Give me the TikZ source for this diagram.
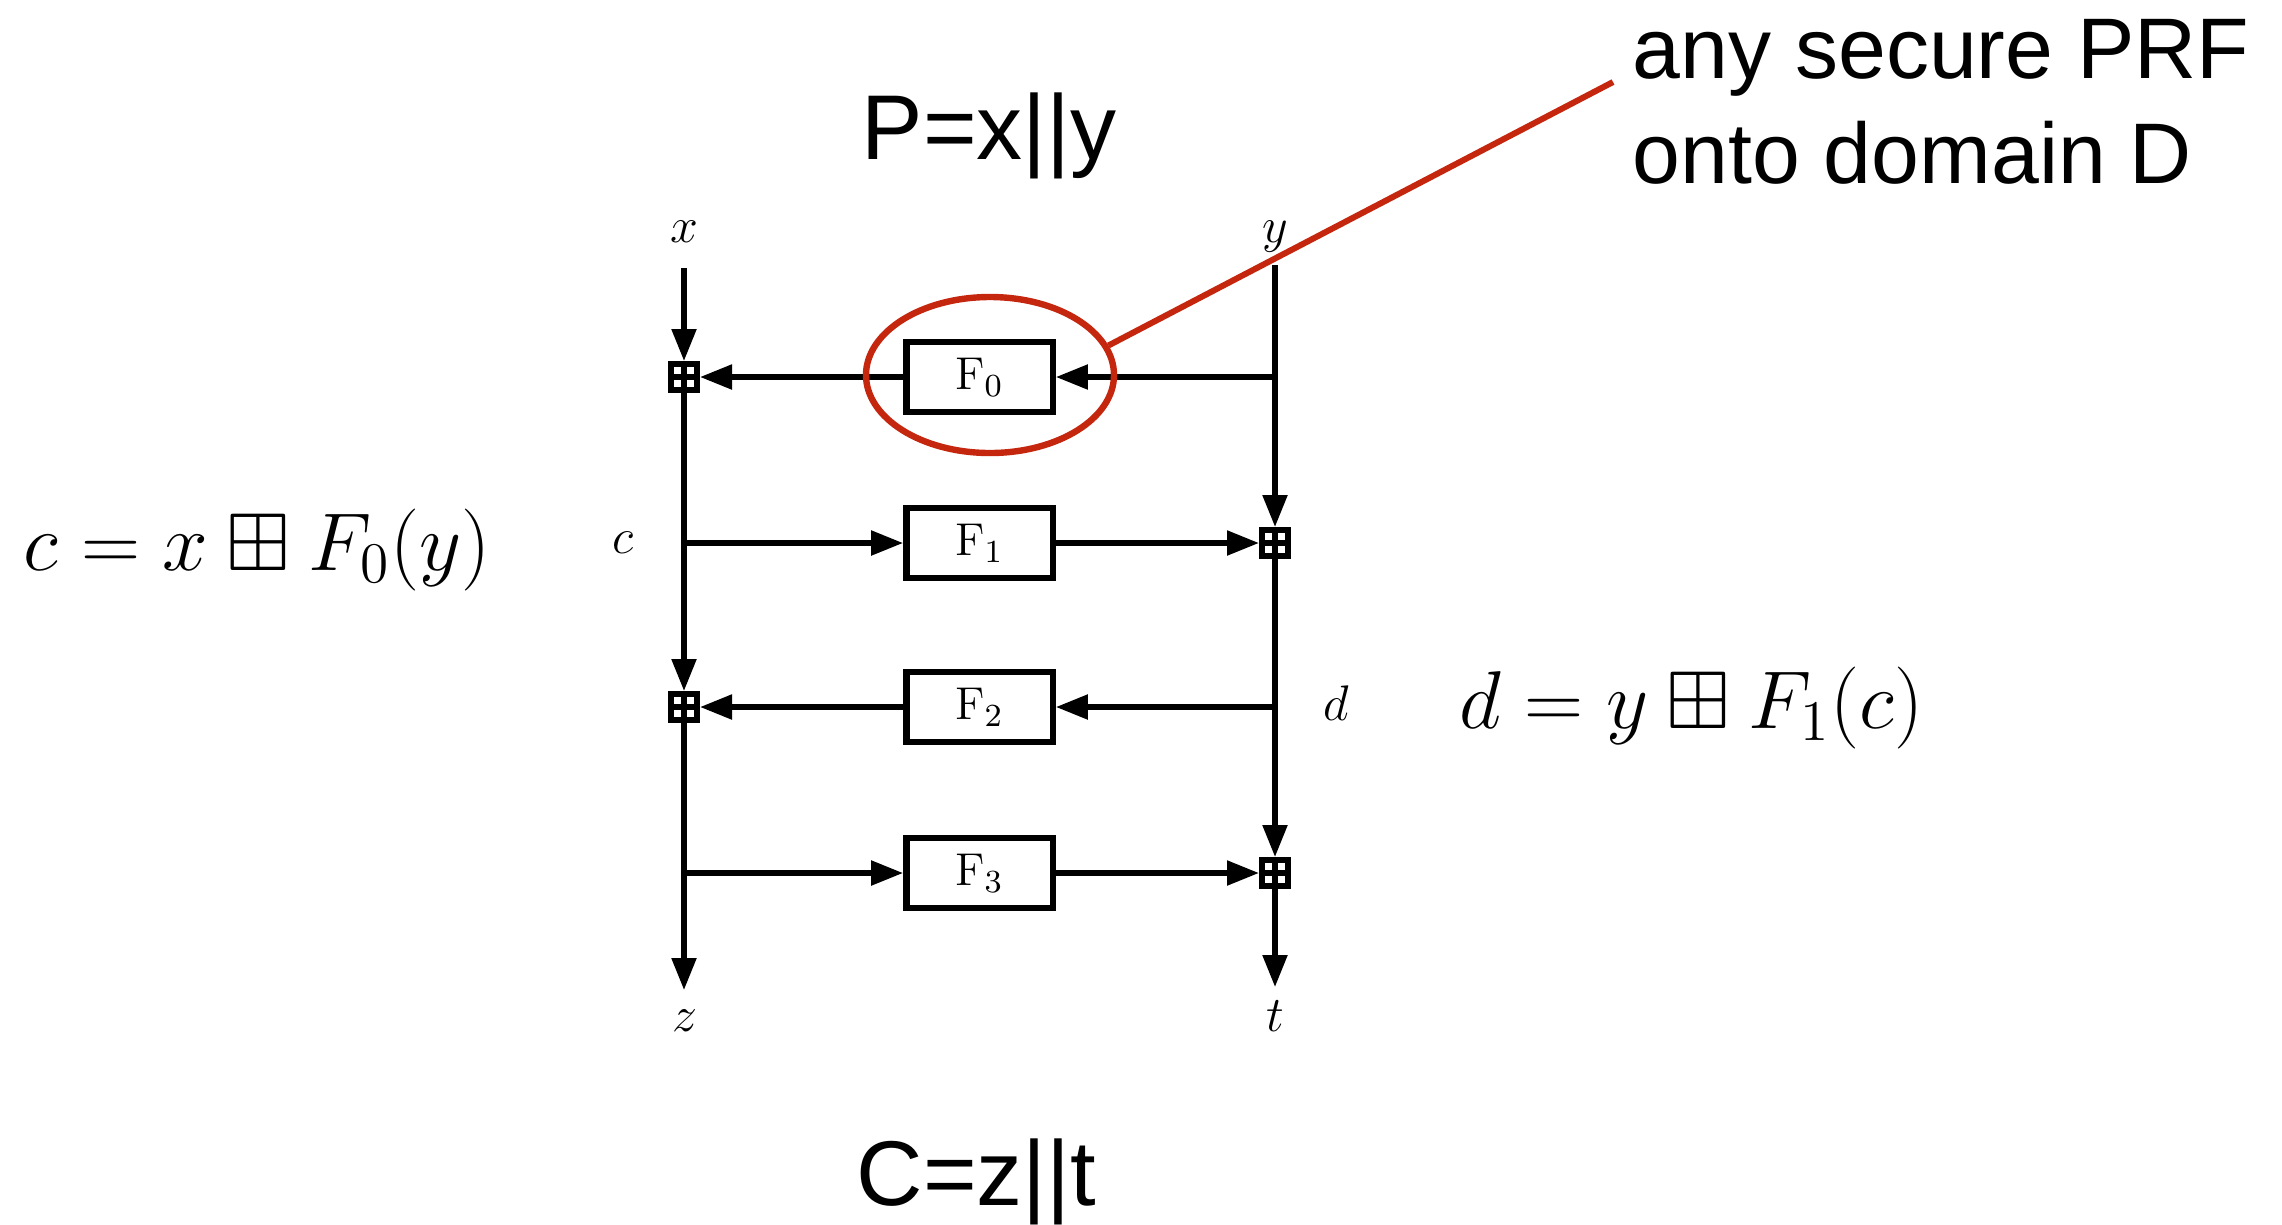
\RequirePackage{fix-cm}
\documentclass[tikz,border=0pt]{standalone}
\usepackage{amssymb}
\usepackage{fontspec}
\newfontfamily\hel{Liberation Sans}
\usetikzlibrary{arrows.meta,shapes.geometric}
\definecolor{annred}{RGB}{196,38,14}
\begin{document}
\begin{tikzpicture}[x=0.25pt,y=-0.25pt,
  wire/.style={line width=1.33pt},
  arr/.style={wire,-{Triangle[length=8pt,width=6pt]}},
  fbox/.style={draw,line width=1.6pt,minimum width=36.6pt,minimum height=17.4pt,inner sep=0pt,font=\fontsize{11.5}{12}\selectfont},
  bplus/.style={fill=black,minimum size=8pt,inner sep=0pt,outer sep=0pt,
    path picture={\foreach \sx in {-1,1}{\foreach \sy in {-1,1}{
      \fill[white] ([shift={(\sx*0.75pt,\sy*0.75pt)}]path picture bounding box.center) rectangle ([shift={(\sx*2.5pt,\sy*2.5pt)}]path picture bounding box.center);}}}},
  lbl/.style={anchor=base,inner sep=0pt,font=\fontsize{12.5}{14}\selectfont},
  eq/.style={anchor=base west,inner sep=0pt,font=\fontsize{20.5}{24}\selectfont},
  big/.style={anchor=base west,inner sep=0pt,font=\hel\fontsize{23}{27}\selectfont},
  ann/.style={anchor=base west,inner sep=0pt,font=\hel\fontsize{21.5}{25}\selectfont}]
\useasboundingbox (0,0) rectangle (2282,1224);
% texts
\node[big] (P) at (861,159) {P=x||y};
\node[big] (C) at (856,1205) {C=z||t};
\node[ann] (ann1) at (1632,78) {any secure PRF};
\node[ann] (ann2) at (1632,183) {onto domain D};
\node[eq] (eqc) at (23,570) {$c = x \boxplus F_0(y)$};
\node[eq] (eqd) at (1459,728) {$d = y \boxplus F_1(c)$};
% labels
\node[lbl] (lx) at (684,242) {$x$};
\node[lbl] (ly) at (1275,242) {$y$};
\node[lbl] (lc) at (623,553) {$c$};
\node[lbl] (ld) at (1336,720) {$d$};
\node[lbl] (lz) at (685,1031) {$z$};
\node[lbl] (lt) at (1275,1031) {$t$};
% boxes
\node[fbox] (F0) at (979.5,377) {$\mathrm{F}_0$};
\node[fbox] (F1) at (979.5,543) {$\mathrm{F}_1$};
\node[fbox] (F2) at (979.5,707) {$\mathrm{F}_2$};
\node[fbox] (F3) at (979.5,873) {$\mathrm{F}_3$};
% combiners
\node[bplus] (s0) at (684,377) {};
\node[bplus] (s2) at (684,707) {};
\node[bplus] (s1) at (1275,543) {};
\node[bplus] (s3) at (1275,873) {};
% terminals
\coordinate (xin) at (684,268);
\coordinate (yin) at (1275,265);
\coordinate (zout) at (684,990);
\coordinate (tout) at (1275,987);
\coordinate (r0) at (yin |- F0);
\coordinate (r2) at (yin |- F2);
\coordinate (l1) at (xin |- F1);
\coordinate (l3) at (xin |- F3);
% verticals
\draw[arr] (xin) -- (s0.north);
\draw[arr] (s0.south) -- (s2.north);
\draw[arr] (s2.south) -- (zout);
\draw[arr] (yin) -- (s1.north);
\draw[arr] (s1.south) -- (s3.north);
\draw[arr] (s3.south) -- (tout);
% horizontals
\draw[arr] (r0) -- (F0.east);
\draw[arr] (F0.west) -- (s0.east);
\draw[arr] (l1) -- (F1.west);
\draw[arr] (F1.east) -- (s1.west);
\draw[arr] (r2) -- (F2.east);
\draw[arr] (F2.west) -- (s2.east);
\draw[arr] (l3) -- (F3.west);
\draw[arr] (F3.east) -- (s3.west);
% annotation
\node[ellipse,draw=annred,line width=1.6pt,minimum width=62pt,minimum height=39pt,inner sep=0pt] (ell) at (990,375) {};
\coordinate (annend) at (1613,82);
\draw[annred,line width=1.5pt] (ell.14) -- (annend);
\end{tikzpicture}
\end{document}
